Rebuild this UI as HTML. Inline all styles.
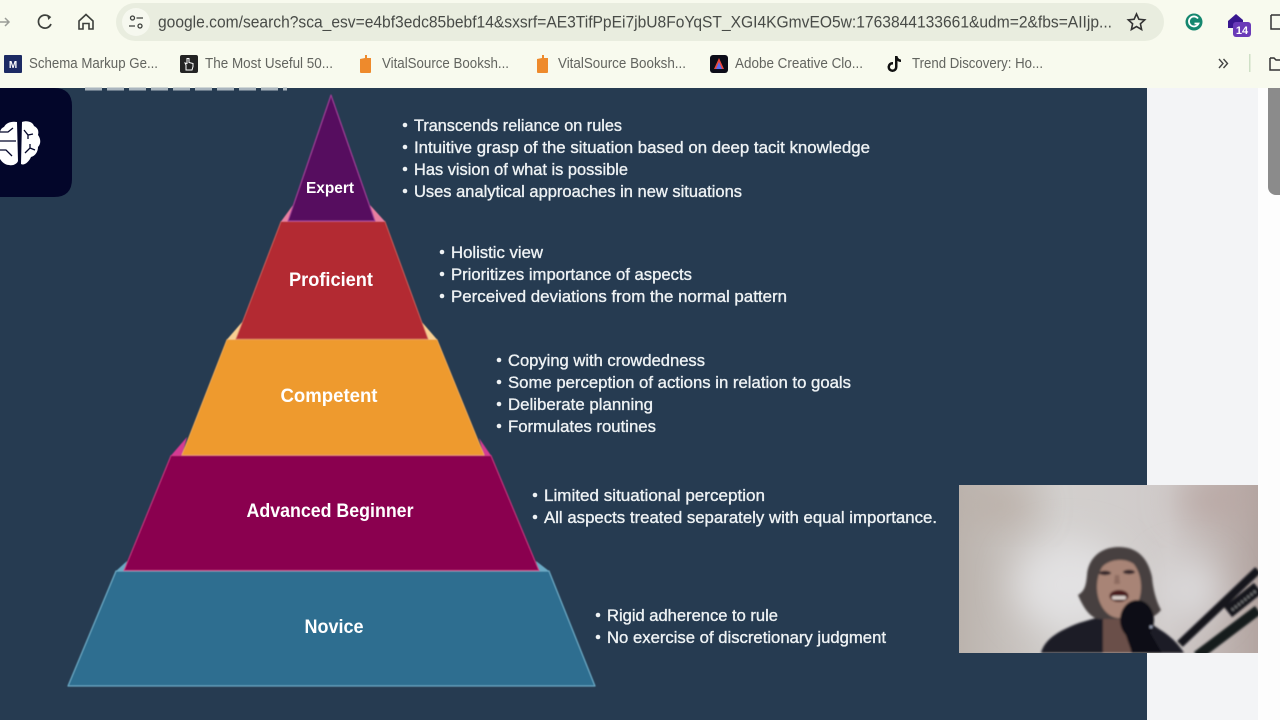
<!DOCTYPE html>
<html lang="en">
<head>
<meta charset="utf-8">
<title>Skill acquisition pyramid</title>
<style>
html,body{margin:0;padding:0;width:1280px;height:720px;overflow:hidden;background:#fff}
svg{display:block}
text{font-family:"Liberation Sans",sans-serif}
.b{fill:#eef2f4;font-size:17px;stroke:#eef2f4;stroke-width:.35}
.d{fill:#eef2f4}
.l{fill:#fff;font-weight:bold;text-anchor:middle}
.m{fill:#62645f;font-size:14.500px}
</style>
</head>
<body>
<svg width="1280" height="720" viewBox="0 0 1280 720" xmlns="http://www.w3.org/2000/svg">
<defs>
<filter id="blur" x="-20%" y="-20%" width="140%" height="140%"><feGaussianBlur stdDeviation="1"/></filter>
<filter id="soft" x="-5%" y="-5%" width="110%" height="110%"><feGaussianBlur stdDeviation=".4"/></filter>
<filter id="blur2" x="-100%" y="-100%" width="300%" height="300%"><feGaussianBlur stdDeviation="18"/></filter>
<linearGradient id="wall" x1="0" y1="0" x2="1" y2="0">
<stop offset="0" stop-color="#bbb3ad"/><stop offset=".35" stop-color="#d2cfcd"/><stop offset=".7" stop-color="#d0cbca"/><stop offset="1" stop-color="#b3a5a1"/>
</linearGradient>
<clipPath id="cam"><rect x="959" y="485" width="299" height="168"/></clipPath>
</defs>

<!-- browser chrome -->
<rect width="1280" height="88" fill="#f8faee"/>
<rect x="116" y="3" width="1048" height="38" rx="19" fill="#e9eddf"/>
<path d="M0 22H9M5 18l4 4-4 4" fill="none" stroke="#9a9c97" stroke-width="1.500"/>
<path d="M50 17.500A6.500 6.500 0 1 0 51 24" fill="none" stroke="#3d403c" stroke-width="1.700"/>
<path d="M47 14.500l4.300 2.500-3 3z" fill="#3d403c"/>
<path d="M79 21l7-6.500 7 6.500V29H89V23.500H83V29H79z" fill="none" stroke="#3d403c" stroke-width="1.600"/>
<circle cx="136" cy="22" r="14" fill="#f6f8ef"/>
<g fill="none" stroke="#3d403c" stroke-width="1.300"><circle cx="132.500" cy="18" r="2"/><path d="M136.500 18H143M129 26H135"/><circle cx="140" cy="26" r="2"/></g>
<text x="158" y="27.500" font-size="17" fill="#484b47" textLength="954" lengthAdjust="spacingAndGlyphs">google.com/search?sca_esv=e4bf3edc85bebf14&amp;sxsrf=AE3TifPpEi7jbU8FoYqST_XGI4KGmvEO5w:1763844133661&amp;udm=2&amp;fbs=AIIjp...</text>
<path d="M1136.500 14l2.400 5.300 5.800.6-4.300 3.900 1.200 5.700-5.100-2.900-5.100 2.900 1.200-5.700-4.300-3.900 5.800-.6z" fill="none" stroke="#333" stroke-width="1.600"/>
<circle cx="1194" cy="22" r="8.500" fill="#15876f"/>
<path d="M1198 18.500a5 5 0 1 0 .5 5h-4" fill="none" stroke="#fff" stroke-width="1.800"/>
<path d="M1228 21l8-7 7 6v8h-15z" fill="#38178f"/>
<rect x="1233" y="22" width="18" height="15" rx="3" fill="#6a3ab8"/>
<text x="1242" y="34" font-size="11" font-weight="bold" fill="#fff" text-anchor="middle">14</text>
<path d="M1271 15h9M1271 15v14h9" fill="none" stroke="#333" stroke-width="1.500"/>

<!-- bookmarks -->
<rect x="4" y="55" width="18" height="18" rx="1" fill="#1c2a63"/>
<text x="13" y="68" font-size="10" font-weight="bold" fill="#fff" text-anchor="middle">M</text>
<text class="m" x="29" y="68" textLength="129" lengthAdjust="spacingAndGlyphs">Schema Markup Ge...</text>
<rect x="180" y="55" width="18" height="18" rx="2" fill="#232323"/>
<path d="M186 70v-5l-1-2 2 .5v-5h2v4l4 1v3l-1 3.500z" fill="none" stroke="#fff" stroke-width="1"/>
<text class="m" x="205" y="68" textLength="128" lengthAdjust="spacingAndGlyphs">The Most Useful 50...</text>
<path d="M360 59l5-1v-3h2v3h4v14a1 1 0 0 1-1 1h-9a1 1 0 0 1-1-1z" fill="#ee8a2c"/>
<text class="m" x="382" y="68" textLength="127" lengthAdjust="spacingAndGlyphs">VitalSource Booksh...</text>
<path d="M537 59l5-1v-3h2v3h4v14a1 1 0 0 1-1 1h-9a1 1 0 0 1-1-1z" fill="#ee8a2c"/>
<text class="m" x="558" y="68" textLength="128" lengthAdjust="spacingAndGlyphs">VitalSource Booksh...</text>
<rect x="710" y="55" width="18" height="18" rx="3" fill="#0c0c18"/>
<path d="M719 58l5 11h-10z" fill="#e9483c"/>
<path d="M719 62l3 7h-6z" fill="#5c6cf0"/>
<text class="m" x="735" y="68" textLength="128" lengthAdjust="spacingAndGlyphs">Adobe Creative Clo...</text>
<path d="M895 56h2.500c.3 2 1.500 3.300 3.500 3.500v2.500c-1.400 0-2.600-.4-3.500-1.100v6.100a5 5 0 1 1-4.500-5v2.600a2.500 2.500 0 1 0 2 2.400z" fill="#111"/>
<text class="m" x="912" y="68" textLength="131" lengthAdjust="spacingAndGlyphs">Trend Discovery: Ho...</text>
<path d="M1219 59l4 4.500-4 4.500M1223.500 59l4 4.500-4 4.500" fill="none" stroke="#444" stroke-width="1.400"/>
<rect x="1249" y="54" width="1.500" height="18" fill="#cfe0c6"/>
<path d="M1270 58h4l2 2h4M1270 58v12h10" fill="none" stroke="#333" stroke-width="1.500"/>

<!-- page -->
<rect x="0" y="88" width="1147" height="632" fill="#263b51"/>
<rect x="1147" y="88" width="111" height="632" fill="#f3f4f6"/>
<rect x="1258" y="88" width="22" height="632" fill="#fdfdfd"/>
<path d="M1268 88h12v107h-4a8 8 0 0 1-8-8z" fill="#8b8b8b"/>
<path d="M85 89h202" stroke="#aab5be" stroke-width="3" stroke-dasharray="17 5"/>

<!-- brain tile -->
<path d="M0 88H54Q72 88 72 106V179Q72 197 54 197H0z" fill="#03062a"/>
<g fill="#fff">
<path d="M17 122c-6-1-11 1-13 5-3 1-4 4-4 6v26c2 3 5 6 9 6 4 1 8-1 9-4z"/>
<path d="M22 122c5-2 11 0 12 4 4 2 5 5 4 9 3 4 3 9 0 12 0 5-3 9-7 10-2 5-7 9-10 7z"/>
</g>
<g fill="none" stroke="#03062a" stroke-width="1.300">
<path d="M0 141H16M0 132h8l5-4M0 150h6l6 6"/>
<path d="M24 130l4 5 5-1M28 135v4M25 153l5-5 5 2M30 148v-4"/>
</g>

<!-- pyramid -->
<g filter="url(#soft)">
<polygon points="116,571 549,571 595,686 68,686" fill="#2f6e90" stroke="#6aa9c4" stroke-width="1.200" stroke-linejoin="round"/>
<polygon points="116,571 124,571 127,561" fill="#6aa9c4"/>
<polygon points="549,571 539,571 536,561" fill="#6aa9c4"/>
<polygon points="171,455.500 491,455.500 539,570.500 124,570.500" fill="#8a0050" stroke="#c8347f" stroke-width="1"/>
<polygon points="171,455.500 182,455.500 187,437" fill="#d43a93"/>
<polygon points="491,455.500 484,455.500 479,438" fill="#d43a93"/>
<polygon points="227,339.500 437,339.500 484,455 182,455" fill="#ee9a2e" stroke="#f4b05c" stroke-width=".8"/>
<polygon points="227,339.500 236,339.500 243,321" fill="#f8cf92"/>
<polygon points="437,339.500 428,339.500 421,321" fill="#f8cf92"/>
<polygon points="281,221.500 385,221.500 428,339 236,339" fill="#b32b30" stroke="#d4655f" stroke-width=".8"/>
<polygon points="281,221.500 288,221.500 293,205" fill="#e97fa0"/>
<polygon points="385,221.500 375,221.500 370,205" fill="#e97fa0"/>
<polygon points="331,95 375,221 288,221" fill="#57105f" stroke="#a33e9a" stroke-width="1.100" stroke-linejoin="round"/>
</g>

<!-- labels -->
<text class="l" x="330" y="193" font-size="16" textLength="48" lengthAdjust="spacingAndGlyphs">Expert</text>
<text class="l" x="331" y="286" font-size="19" textLength="84" lengthAdjust="spacingAndGlyphs">Proficient</text>
<text class="l" x="329" y="402" font-size="19" textLength="97" lengthAdjust="spacingAndGlyphs">Competent</text>
<text class="l" x="330" y="517" font-size="19" textLength="167" lengthAdjust="spacingAndGlyphs">Advanced Beginner</text>
<text class="l" x="334" y="633" font-size="19" textLength="59" lengthAdjust="spacingAndGlyphs">Novice</text>

<!-- bullets -->
<g class="d">
<circle cx="405" cy="125" r="2.300"/><circle cx="405" cy="147" r="2.300"/><circle cx="405" cy="169" r="2.300"/><circle cx="405" cy="191" r="2.300"/>
<circle cx="442" cy="252" r="2.300"/><circle cx="442" cy="274" r="2.300"/><circle cx="442" cy="296" r="2.300"/>
<circle cx="499" cy="360" r="2.300"/><circle cx="499" cy="382" r="2.300"/><circle cx="499" cy="404" r="2.300"/><circle cx="499" cy="426" r="2.300"/>
<circle cx="535" cy="495" r="2.300"/><circle cx="535" cy="517" r="2.300"/>
<circle cx="598" cy="615" r="2.300"/><circle cx="598" cy="637" r="2.300"/>
</g>
<text class="b" x="414" y="131" textLength="208" lengthAdjust="spacingAndGlyphs">Transcends reliance on rules</text>
<text class="b" x="414" y="153" textLength="456" lengthAdjust="spacingAndGlyphs">Intuitive grasp of the situation based on deep tacit knowledge</text>
<text class="b" x="414" y="175" textLength="214" lengthAdjust="spacingAndGlyphs">Has vision of what is possible</text>
<text class="b" x="414" y="197" textLength="328" lengthAdjust="spacingAndGlyphs">Uses analytical approaches in new situations</text>
<text class="b" x="451" y="258" textLength="92" lengthAdjust="spacingAndGlyphs">Holistic view</text>
<text class="b" x="451" y="280" textLength="241" lengthAdjust="spacingAndGlyphs">Prioritizes importance of aspects</text>
<text class="b" x="451" y="302" textLength="336" lengthAdjust="spacingAndGlyphs">Perceived deviations from the normal pattern</text>
<text class="b" x="508" y="366" textLength="197" lengthAdjust="spacingAndGlyphs">Copying with crowdedness</text>
<text class="b" x="508" y="388" textLength="343" lengthAdjust="spacingAndGlyphs">Some perception of actions in relation to goals</text>
<text class="b" x="508" y="410" textLength="145" lengthAdjust="spacingAndGlyphs">Deliberate planning</text>
<text class="b" x="508" y="432" textLength="148" lengthAdjust="spacingAndGlyphs">Formulates routines</text>
<text class="b" x="544" y="501" textLength="221" lengthAdjust="spacingAndGlyphs">Limited situational perception</text>
<text class="b" x="544" y="523" textLength="393" lengthAdjust="spacingAndGlyphs">All aspects treated separately with equal importance.</text>
<text class="b" x="607" y="621" textLength="171" lengthAdjust="spacingAndGlyphs">Rigid adherence to rule</text>
<text class="b" x="607" y="643" textLength="279" lengthAdjust="spacingAndGlyphs">No exercise of discretionary judgment</text>

<!-- webcam -->
<g clip-path="url(#cam)">
<rect x="959" y="485" width="299" height="168" fill="url(#wall)"/>
<ellipse cx="1070" cy="585" rx="55" ry="45" fill="#e2e1e2" filter="url(#blur2)"/>
<ellipse cx="1190" cy="590" rx="30" ry="30" fill="#dcdadb" filter="url(#blur2)"/>
<ellipse cx="1215" cy="500" rx="40" ry="16" fill="#b8a4a0" filter="url(#blur2)"/>
<ellipse cx="1000" cy="505" rx="35" ry="14" fill="#b8aba3" filter="url(#blur2)"/>
<g filter="url(#blur)">
<path d="M1041 653c3-12 14-21 38-30l20-6h42l18 12c10 6 19 14 25 24z" fill="#1d1f28"/>
<path d="M1103 653v-34l14-4 14 4v34z" fill="#6a5048"/>
<path d="M1078 595c7-4 8-10 9-20 1-15 12-28 32-28 22 0 30 16 33 30 1 12 4 24 9 33-5 6-12 10-20 9h-40c-10 1-18-12-23-24z" fill="#464140"/>
<ellipse cx="1119" cy="587" rx="22" ry="31" fill="#a88476"/>
<path d="M1097 574c3-15 14-22 24-22 11 0 19 8 22 22-6-10-14-14-23-14s-18 4-23 14z" fill="#464140"/>
<ellipse cx="1105" cy="573" rx="6" ry="2.200" fill="#35282a"/>
<ellipse cx="1129" cy="572" rx="6" ry="2.200" fill="#35282a"/>
<path d="M1115 575l-1 9h6l-1-9z" fill="#8e6c60"/>
<ellipse cx="1119" cy="596" rx="9.500" ry="6" fill="#4a1c1c"/>
<rect x="1112" y="596" width="14" height="3.500" rx="1.500" fill="#dcd2cc"/>
<ellipse cx="1137" cy="620" rx="17" ry="20" fill="#0f1015"/>
<path d="M1124 630l20-8 18 31h-30z" fill="#0f1015"/>
<circle cx="1151" cy="627" r="1.200" fill="#c5cfea"/>
<path d="M1180 644L1258 570" stroke="#15161a" stroke-width="8"/>
<path d="M1197 656L1258 610" stroke="#181a1d" stroke-width="10"/>
<path d="M1228 612L1258 588" stroke="#17181b" stroke-width="13"/>
<path d="M1232 610L1257 590" stroke="#77787a" stroke-width="3" stroke-dasharray="2 2"/>
</g>
</g>
</svg>
</body>
</html>
